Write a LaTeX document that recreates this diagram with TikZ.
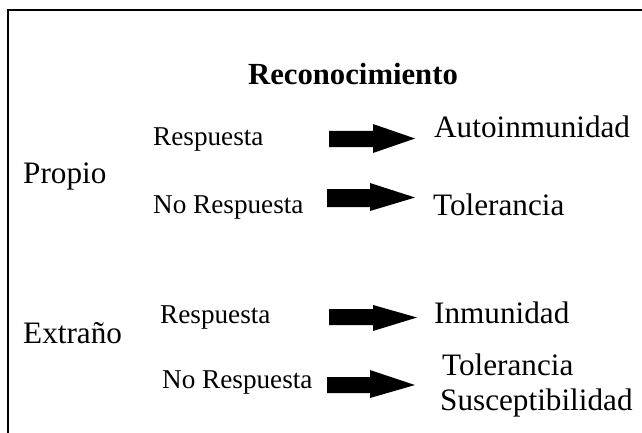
\documentclass[tikz,border=0pt]{standalone}
\usepackage{fontspec}
\setmainfont{Liberation Serif}
\begin{document}
\begin{tikzpicture}[x=1pt,y=-1pt,
  big/.style={inner sep=0pt,anchor=base west,font=\fontsize{31.2}{35}\selectfont},
  small/.style={inner sep=0pt,anchor=base west,font=\fontsize{27.2}{31}\selectfont},
  title/.style={inner sep=0pt,anchor=base,font=\fontsize{30.7}{35}\selectfont\bfseries},
  frame/.style={line width=2pt,black},
  blockarrow/.style={fill=black}]
\useasboundingbox (0,0) rectangle (642,433);
% frame (top and left edges visible)
\coordinate (fTL) at (8,10);
\coordinate (fTR) at (643,10);
\coordinate (fBL) at (8,434);
\draw[frame] (fTR) -- (fTL) -- (fBL);

\node[title] (rec) at (353,85) {Reconocimiento};

\node[big] (propio) at (23,183) {Propio};
\node[big] (extrano) at (23,343) {Extraño};

\node[small] (r1) at (153,146) {Respuesta};
\node[small] (n1) at (153,213) {No Respuesta};
\node[small] (r2) at (160,323) {Respuesta};
\node[small] (n2) at (162,388) {No Respuesta};

\node[big] (auto) at (434,138) {Autoinmunidad};
\node[big] (tol1) at (433,215) {Tolerancia};
\node[big] (inm) at (434,323) {Inmunidad};
\node[big] (tol2) at (442,375) {Tolerancia};
\node[big] (sus) at (440,410) {Susceptibilidad};

% block arrows
\fill[blockarrow] (329,131) -- (373,131) -- (373,124) -- (415,138.5) -- (373,153) -- (373,147) -- (329,147) -- cycle;
\fill[blockarrow] (327,189) -- (370,189) -- (370,183) -- (415,197.5) -- (370,211) -- (370,207) -- (327,207) -- cycle;
\fill[blockarrow] (329,309) -- (373,309) -- (373,305) -- (417,317.5) -- (373,331) -- (373,325) -- (329,325) -- cycle;
\fill[blockarrow] (327,377) -- (370,377) -- (370,370) -- (415,385) -- (370,398) -- (370,393) -- (327,393) -- cycle;
\end{tikzpicture}
\end{document}
